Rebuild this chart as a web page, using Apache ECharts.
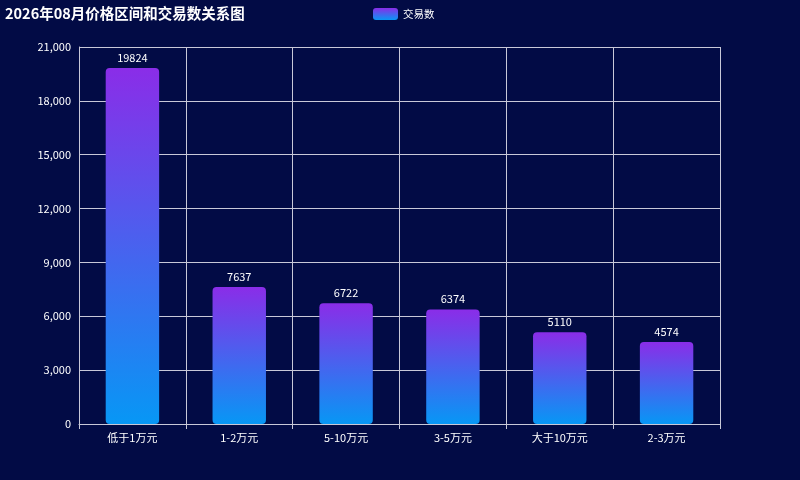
<!DOCTYPE html>
<html>
<head>
	<meta charset="utf-8">
	<title>价格区间和交易数关系图</title>
	<script src="https://cdn.jsdelivr.net/npm/echarts@6/dist/echarts.min.js"></script>
	<style type="text/css">
		html, body { margin: 0; padding: 0; background: #020b45; }
		#chartContainer { width: 800px; height: 480px; }
	</style>
</head>
<body>
	<div id="chartContainer"></div>
	<script type="text/javascript">
		var categories = ['低于1万元', '1-2万元', '5-10万元', '3-5万元', '大于10万元', '2-3万元'];
		var tradeCounts = [19824, 7637, 6722, 6374, 5110, 4574];
		var yTicks = { min: 0, max: 21000, interval: 3000 };

		var myChart = echarts.init(document.getElementById('chartContainer'));
		var barColor = new echarts.graphic.LinearGradient(0, 0, 0, 1, [
			{ offset: 0, color: '#8a2de8' },
			{ offset: 1, color: '#0797f5' }
		]);
		var option = {
			backgroundColor: '#020b45',
			textStyle: { fontFamily: 'Noto Sans CJK SC' },
			title: {
				text: '2026年08月价格区间和交易数关系图',
				left: 0,
				top: 1,
				textStyle: { color: '#ffffff', fontSize: 14.5, fontWeight: 'bold' }
			},
			legend: {
				data: ['交易数'],
				top: 3,
				left: 368,
				itemWidth: 25,
				itemHeight: 12,
				textStyle: { color: '#ffffff', fontSize: 10.5 }
			},
			grid: { left: 79, right: 80, top: 47, bottom: 56 },
			xAxis: {
				type: 'category',
				data: categories,
				axisLine: { lineStyle: { color: '#c8c8d8' } },
				axisTick: { show: true, lineStyle: { color: '#c8c8d8' } },
				axisLabel: { color: '#ffffff', fontSize: 11 },
				splitLine: { show: true, lineStyle: { color: '#c8c8d8' } }
			},
			yAxis: {
				type: 'value',
				min: yTicks.min,
				max: yTicks.max,
				interval: yTicks.interval,
				axisLine: { show: true, lineStyle: { color: '#c8c8d8' } },
				axisLabel: { color: '#ffffff', fontSize: 11 },
				splitLine: { lineStyle: { color: '#c8c8d8' } }
			},
			series: [{
				name: '交易数',
				type: 'bar',
				data: tradeCounts,
				barWidth: '50%',
				itemStyle: { color: barColor, borderRadius: 4 },
				label: { show: true, position: 'top', color: '#ffffff', fontSize: 11 }
			}]
		};
		myChart.setOption(option);
	</script>
</body>
</html>
